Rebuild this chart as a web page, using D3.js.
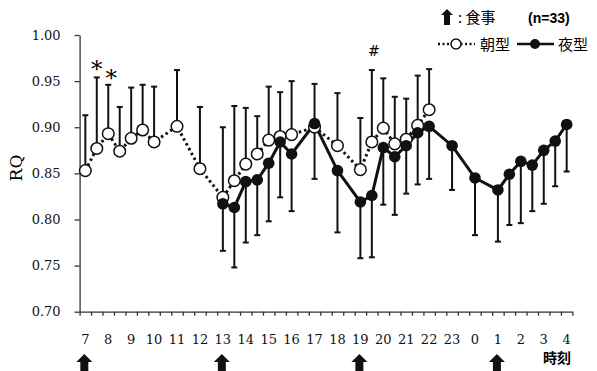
<!DOCTYPE html>
<html>
<head>
<meta charset="utf-8">
<script src="https://cdn.jsdelivr.net/npm/d3@7"></script>
<style>
  body { margin: 0; background: #fff; }
  svg { display: block; }
</style>
</head>
<body>
<figure id="rq-chart" style="margin:0"></figure>
<script>
// time slots in hours (24 = 0時, 25 = 1時 ...)
const morningTimes = [7, 7.5, 8, 8.5, 9, 9.5, 10, 11, 12, 13, 13.5, 14, 14.5, 15, 15.5, 16, 17, 18, 19, 19.5, 20, 20.5, 21, 21.5, 22];
const morningMean  = [0.853, 0.877, 0.893, 0.874, 0.888, 0.897, 0.884, 0.901, 0.855, 0.824, 0.842, 0.860, 0.871, 0.886, 0.890, 0.892, 0.900, 0.880, 0.854, 0.884, 0.899, 0.882, 0.887, 0.902, 0.919];
const morningUpper = [0.913, 0.954, 0.946, 0.922, 0.943, 0.946, 0.944, 0.962, 0.922, 0.900, 0.923, 0.921, 0.912, 0.944, 0.938, 0.950, 0.947, 0.937, 0.910, 0.962, 0.953, 0.933, 0.931, 0.956, 0.963];

const nightTimes = [13, 13.5, 14, 14.5, 15, 15.5, 16, 17, 18, 19, 19.5, 20, 20.5, 21, 21.5, 22, 23, 24, 25, 25.5, 26, 26.5, 27, 27.5, 28];
const nightMean  = [0.817, 0.813, 0.841, 0.843, 0.861, 0.884, 0.871, 0.904, 0.853, 0.819, 0.826, 0.878, 0.868, 0.880, 0.894, 0.901, 0.880, 0.845, 0.832, 0.849, 0.863, 0.859, 0.875, 0.885, 0.903];
const nightLower = [0.766, 0.748, 0.775, 0.783, 0.798, 0.824, 0.809, 0.844, 0.786, 0.758, 0.759, 0.816, 0.805, 0.828, 0.838, 0.844, 0.832, 0.783, 0.776, 0.794, 0.796, 0.809, 0.817, 0.836, 0.852];

const hourLabels = ["7", "8", "9", "10", "11", "12", "13", "14", "15", "16", "17", "18", "19", "20", "21", "22", "23", "0", "1", "2", "3", "4"];
const yTicks = [0.70, 0.75, 0.80, 0.85, 0.90, 0.95, 1.00];
const mealTimes = [7, 13, 19, 25];

const width = 597, height = 371;

const svg = d3.select("figure#rq-chart")
  .append("svg")
  .attr("width", width)
  .attr("height", height);

const x = d3.scaleLinear().domain([6.75, 28.25]).range([79.6, 572.4]);
const y = d3.scaleLinear().domain([0.70, 1.00]).range([311.7, 35]);

const serif = "'DejaVu Serif', serif";
const cjk = "'Noto Sans CJK JP', sans-serif";

// y axis
const yAxis = svg.append("g")
  .attr("transform", `translate(${x(6.75)},0)`)
  .call(d3.axisLeft(y).tickValues(yTicks).tickFormat(d3.format(".2f")).tickSize(5).tickSizeOuter(0).tickPadding(14));
yAxis.selectAll("text").style("font-family", serif).style("font-size", "13px").attr("fill", "#111");
yAxis.selectAll("line, path").attr("stroke", "#333").attr("stroke-width", 1.3);

// x axis: tick marks between half-hour slots
const xAxis = svg.append("g")
  .attr("transform", `translate(0,${y(0.70)})`)
  .call(d3.axisBottom(x).tickValues(d3.range(6.75, 28.3, 0.5)).tickFormat("").tickSize(4).tickSizeOuter(0));
xAxis.selectAll("line, path").attr("stroke", "#333").attr("stroke-width", 1.3);

// hour labels
svg.append("g").selectAll("text")
  .data(hourLabels)
  .join("text")
  .attr("x", (d, i) => x(7 + i))
  .attr("y", 344)
  .attr("text-anchor", "middle")
  .style("font-family", serif)
  .style("font-size", "13px")
  .attr("fill", "#111")
  .text(d => d);

svg.append("text")
  .attr("x", 557).attr("y", 363)
  .attr("text-anchor", "middle")
  .style("font-family", cjk).style("font-size", "14px").style("font-weight", "bold")
  .text("時刻");

// y title
svg.append("text")
  .attr("transform", "translate(22,168) rotate(-90)")
  .attr("text-anchor", "middle")
  .style("font-family", serif).style("font-size", "17px")
  .text("RQ");

// meal arrows
const arrowPath = "M0,0 L8,8 L4,8 L4,18 L-4,18 L-4,8 L-8,8 Z";
svg.append("g").selectAll("path")
  .data(mealTimes)
  .join("path")
  .attr("d", arrowPath)
  .attr("transform", d => `translate(${x(d) - 1},354)`)
  .attr("fill", "#111");

const morning = morningTimes.map((t, i) => ({ t, m: morningMean[i], e: morningUpper[i] }));
const night = nightTimes.map((t, i) => ({ t, m: nightMean[i], e: nightLower[i] }));

// error bars
function drawBars(data, cls) {
  const g = svg.append("g").attr("class", cls);
  g.selectAll("line.v").data(data).join("line")
    .attr("class", "v")
    .attr("x1", d => x(d.t)).attr("x2", d => x(d.t))
    .attr("y1", d => y(d.m)).attr("y2", d => y(d.e))
    .attr("stroke", "#111").attr("stroke-width", 2);
  g.selectAll("line.c").data(data).join("line")
    .attr("class", "c")
    .attr("x1", d => x(d.t) - 3).attr("x2", d => x(d.t) + 3)
    .attr("y1", d => y(d.e)).attr("y2", d => y(d.e))
    .attr("stroke", "#111").attr("stroke-width", 2);
}
drawBars(morning, "bars-morning");
drawBars(night, "bars-night");

const line = d3.line().x(d => x(d.t)).y(d => y(d.m));

svg.append("path")
  .datum(morning)
  .attr("d", line)
  .attr("fill", "none")
  .attr("stroke", "#111")
  .attr("stroke-width", 3)
  .attr("stroke-dasharray", "2.5,3");

svg.append("path")
  .datum(night)
  .attr("d", line)
  .attr("fill", "none")
  .attr("stroke", "#111")
  .attr("stroke-width", 3);

svg.append("g").selectAll("circle")
  .data(morning)
  .join("circle")
  .attr("cx", d => x(d.t))
  .attr("cy", d => y(d.m))
  .attr("r", 5.8)
  .attr("fill", "#fff")
  .attr("stroke", "#111")
  .attr("stroke-width", 1.5);

svg.append("g").selectAll("circle")
  .data(night)
  .join("circle")
  .attr("cx", d => x(d.t))
  .attr("cy", d => y(d.m))
  .attr("r", 5.8)
  .attr("fill", "#111");

// significance marks
svg.append("text").attr("x", x(7.5)).attr("y", 77).attr("text-anchor", "middle")
  .style("font-family", serif).style("font-size", "23px").text("*");
svg.append("text").attr("x", x(8) + 3).attr("y", 86).attr("text-anchor", "middle")
  .style("font-family", serif).style("font-size", "23px").text("*");
svg.append("text").attr("x", x(19.5) + 2).attr("y", 56).attr("text-anchor", "middle")
  .style("font-family", serif).style("font-size", "14px").text("#");

// legend
const lg = svg.append("g");
lg.append("path").attr("d", "M0,0 L6,6 L3,6 L3,16 L-3,16 L-3,6 L-6,6 Z")
  .attr("transform", "translate(447,9)").attr("fill", "#111");
lg.append("text").attr("x", 458).attr("y", 23)
  .style("font-family", cjk).style("font-size", "15px").text(": 食事");
lg.append("text").attr("x", 528).attr("y", 23)
  .style("font-family", "'Liberation Sans', sans-serif").style("font-size", "14px").style("font-weight", "bold")
  .text("(n=33)");

lg.append("line").attr("x1", 438).attr("x2", 475).attr("y1", 44).attr("y2", 44)
  .attr("stroke", "#111").attr("stroke-width", 2.5).attr("stroke-dasharray", "2,2.5");
lg.append("circle").attr("cx", 456).attr("cy", 44).attr("r", 5)
  .attr("fill", "#fff").attr("stroke", "#111").attr("stroke-width", 1.5);
lg.append("text").attr("x", 480).attr("y", 50)
  .style("font-family", cjk).style("font-size", "15px").text("朝型");
lg.append("line").attr("x1", 517).attr("x2", 554).attr("y1", 44).attr("y2", 44)
  .attr("stroke", "#111").attr("stroke-width", 2.5);
lg.append("circle").attr("cx", 535).attr("cy", 44).attr("r", 5).attr("fill", "#111");
lg.append("text").attr("x", 558).attr("y", 50)
  .style("font-family", cjk).style("font-size", "15px").text("夜型");
</script>
</body>
</html>
